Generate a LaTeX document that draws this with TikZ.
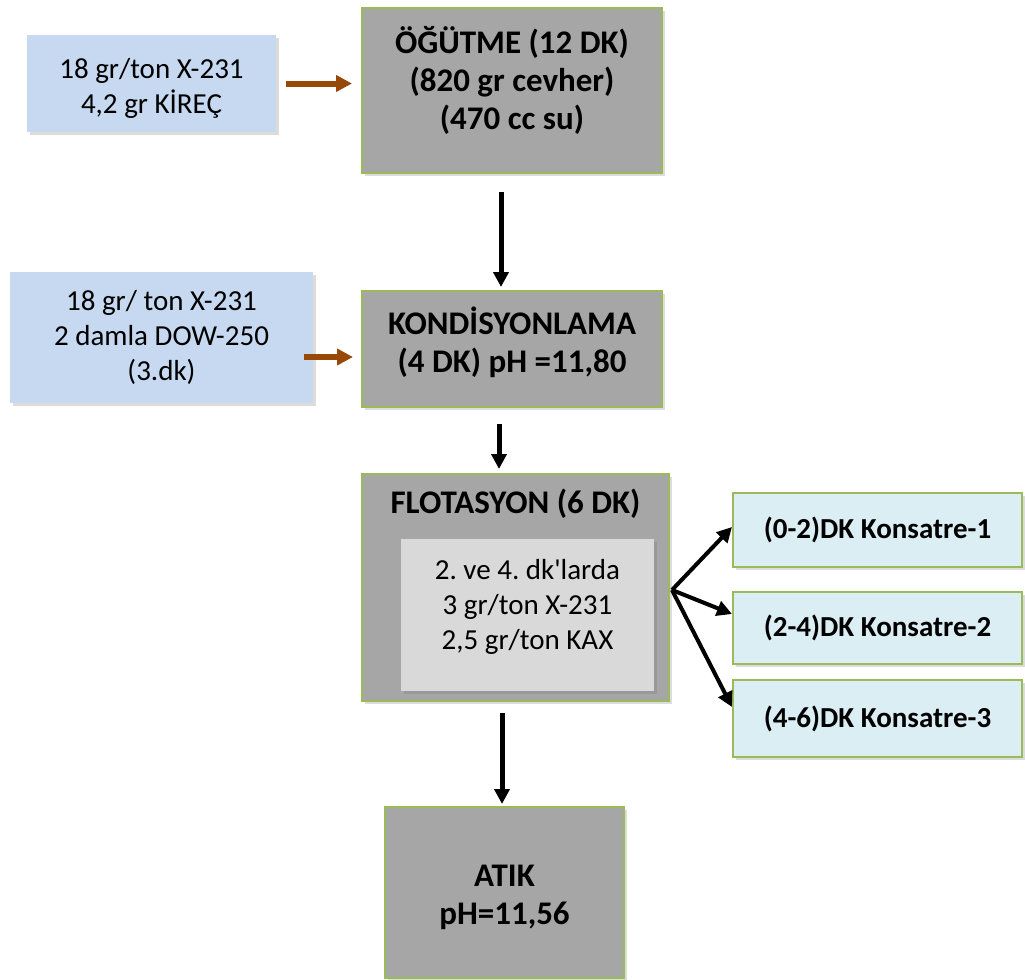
\documentclass[tikz,border=0pt]{standalone}
\usepackage{fontspec}
\setmainfont{Carlito}
\frenchspacing
\usepackage{xcolor}
\definecolor{cFeed}{HTML}{C6D9F1}
\definecolor{cStep}{HTML}{A6A6A6}
\definecolor{cEdge}{HTML}{9BBB59}
\definecolor{cInner}{HTML}{D9D9D9}
\definecolor{cOut}{HTML}{DBEEF4}
\definecolor{cBrown}{HTML}{984807}
\usepackage{tikz}
\usetikzlibrary{arrows.meta,calc,shadows}
\tikzset{
  txt-reg/.style={font=\fontsize{14.5}{17.5}\selectfont,align=center},
  txt-step/.style={font=\fontsize{16.5}{19}\selectfont\bfseries,align=center},
  box-shadow/.style={drop shadow={shadow xshift=1.5pt,shadow yshift=-1.5pt,
    opacity=.25,fill=black!55}},
  box-feed/.style={box-shadow,fill=cFeed,inner sep=0pt,txt-reg},
  box-step/.style={box-shadow,fill=cStep,draw=cEdge,line width=1pt,inner sep=0pt},
  box-inner/.style={box-shadow,fill=cInner,inner sep=0pt},
  box-out/.style={box-shadow,fill=cOut,draw=cEdge,line width=1pt,inner sep=0pt,
    font=\fontsize{14.5}{17.5}\selectfont\bfseries,minimum width=144.5pt},
  arrow-feed/.style={-{Triangle[length=8pt,width=8pt]},line width=3pt,draw=cBrown},
  arrow-flow/.style={-{Triangle[length=7.5pt,width=7.5pt]},line width=2.5pt,draw=black},
  arrow-split/.style={-{Triangle[length=7.5pt,width=7.5pt]},line width=2pt,draw=black},
}

\begin{document}
\begin{tikzpicture}[x=0.5pt,y=-0.5pt]
  \useasboundingbox (0,0) rectangle (1025,980);
  % feeds on the left
  \node[box-feed,minimum width=124.5pt,minimum height=48.5pt] (feed1) at (151.5,83.5) {};
  \node[txt-reg] (feed1-txt) at ($(feed1)+(0,5)$) {18 gr/ton X-231\\4,2 gr KİREÇ};
  \node[box-feed,minimum width=151.5pt,minimum height=65.5pt] (feed2) at (161.5,337.5)
    {18 gr/ ton X-231\\2 damla DOW-250\\(3.dk)};
  % main line
  \node[box-step,minimum width=150pt,minimum height=82.5pt] (ogutme) at (512,90.5) {};
  \node[txt-step] (ogutme-txt) at ($(ogutme)+(0,-10.5)$)
    {ÖĞÜTME (12 DK)\\(820 gr cevher)\\(470 cc su)};
  \node[box-step,minimum width=150pt,minimum height=58pt] (kond) at (512,349) {};
  \node[txt-step] (kond-txt) at ($(kond)+(0,-7)$) {KONDİSYONLAMA\\(4 DK) pH =11,80};
  \node[box-step,minimum width=153.5pt,minimum height=113.5pt] (flot) at (515.5,587.5) {};
  \node[txt-step] (flot-txt) at ($(flot.north)+(0,31)$) {FLOTASYON (6 DK)};
  \node[box-inner,minimum width=126.5pt,minimum height=76pt] (dose) at (527.5,615) {};
  \node[txt-reg] (dose-txt) at ($(dose)+(0,-8)$)
    {2. ve 4. dk\textquotesingle larda\\3 gr/ton X-231\\2,5 gr/ton KAX};
  \node[box-step,minimum width=119.5pt,minimum height=85.5pt] (atik) at (504.5,892.5) {};
  \node[txt-step] (atik-txt) at ($(atik)+(0,5)$) {ATIK\\pH=11,56};
  % concentrates
  \node[box-out,minimum height=37pt] (kons1) at (877.5,530) {(0-2)DK Konsatre-1};
  \node[box-out,minimum height=36pt] (kons2) at (877.5,628) {(2-4)DK Konsatre-2};
  \node[box-out,minimum height=38.5pt] (kons3) at (877.5,718.5) {(4-6)DK Konsatre-3};
  \coordinate (split) at (672,590);

  \draw[arrow-feed,shorten <=5pt,shorten >=4.5pt] (feed1.east) -- (feed1.east -| ogutme.west);
  \draw[arrow-feed,shorten <=-4.5pt,shorten >=4pt] (feed2.east |- 0,357) -- (ogutme.west |- 0,357);
  \draw[arrow-flow,shorten <=9pt,shorten >=1.5pt] ([xshift=-5.5pt]ogutme.south) -- ([xshift=-5.5pt]kond.north);
  \draw[arrow-flow,shorten <=8pt,shorten >=2pt] ([xshift=-6.5pt]kond.south) -- ([xshift=-6.5pt]kond.south |- flot.north);
  \draw[arrow-flow,shorten <=5.5pt,shorten >=1pt] ([xshift=-6.75pt]flot.south) -- ([xshift=-6.75pt]flot.south |- atik.north);
  \draw[arrow-split] (split) -- ([yshift=1.5pt]kons1.west);
  \draw[arrow-split] (split) -- ([yshift=7pt]kons2.west);
  \draw[arrow-split] (split) -- ([yshift=5.75pt]kons3.west);
\end{tikzpicture}
\end{document}
